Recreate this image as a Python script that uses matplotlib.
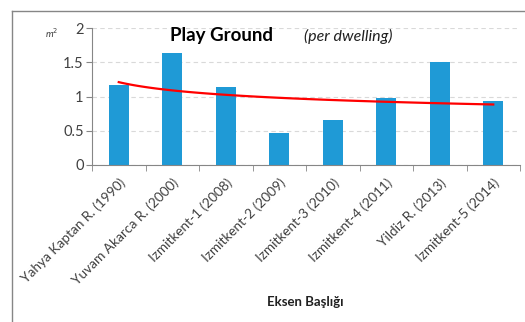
import matplotlib.pyplot as plt
from matplotlib.lines import Line2D
import numpy as np

plt.rcParams['font.family'] = ['Lato', 'DejaVu Sans']

categories = ["Yahya Kaptan R. (1990)", "Yuvam Akarca R. (2000)", "Izmitkent-1 (2008)",
              "Izmitkent-2 (2009)", "Izmitkent-3 (2010)", "Izmitkent-4 (2011)",
              "Yildiz R. (2013)", "Izmitkent-5 (2014)"]
values = [1.17, 1.64, 1.14, 0.47, 0.65, 0.98, 1.50, 0.94]
yticks = [0, 0.5, 1, 1.5, 2]

fig = plt.figure(figsize=(5.25, 3.22), dpi=100)
ax = fig.add_axes([92/525, 1 - 165/322, 428/525, 137/322])

x = np.arange(len(values))
ax.bar(x, values, width=0.38, color='#1f9ad6', zorder=2)

# power trendline, like excel
xs = x + 1
b, a = np.polyfit(np.log(xs), np.log(values), 1)
xf = np.linspace(1, len(values), 100)
ax.plot(xf - 1, np.exp(a) * xf ** b, color='#ff0000', lw=1.6, zorder=3)

ax.set_xlim(-0.5, len(values) - 0.5)
ax.set_ylim(0, 2)
ax.set_yticks(yticks)
ax.set_yticklabels(['0', '0.5', '1', '1.5', '2'], fontsize=10.5, color='#404040')
ax.set_xticks(x)
ax.set_xticklabels(categories, rotation=45, ha='right', rotation_mode='anchor',
                   fontsize=9.8, color='#404040')
ax.tick_params(axis='x', length=0, pad=8)
ax.set_xticks(np.arange(-0.5, len(values)), minor=True)
ax.tick_params(axis='x', which='minor', length=4, color='#868686')
ax.tick_params(axis='y', length=4, color='#868686', pad=2)

ax.grid(axis='y', color='#d9d9d9', ls=(0, (4, 3)), lw=0.8, zorder=0)
for s in ['top', 'right']:
    ax.spines[s].set_visible(False)
ax.spines['left'].set_color('#868686')
ax.spines['bottom'].set_color('#868686')

fig.text(222/525, 1 - 36/322, 'Play Ground', fontsize=13.5, fontweight='bold',
         ha='center', va='center')
fig.text(348/525, 1 - 36/322, '(per dwelling)', fontsize=11.5, style='italic',
         ha='center', va='center', color='#202020')
fig.text(52/525, 1 - 33/322, 'm$^2$', fontsize=7, style='italic',
         ha='center', va='center', color='#404040')
fig.text(305/525, 1 - 302/322, 'Eksen Başlığı', fontsize=9.5, fontweight='bold',
         ha='center', va='center', color='#202020')

# chart area border
fig.add_artist(Line2D([12/525, 12/525], [0, 1 - 11/322], color='#868686', lw=1))
fig.add_artist(Line2D([12/525, 1], [1 - 11/322, 1 - 11/322], color='#868686', lw=1))

fig.savefig('out.png', dpi=100)
